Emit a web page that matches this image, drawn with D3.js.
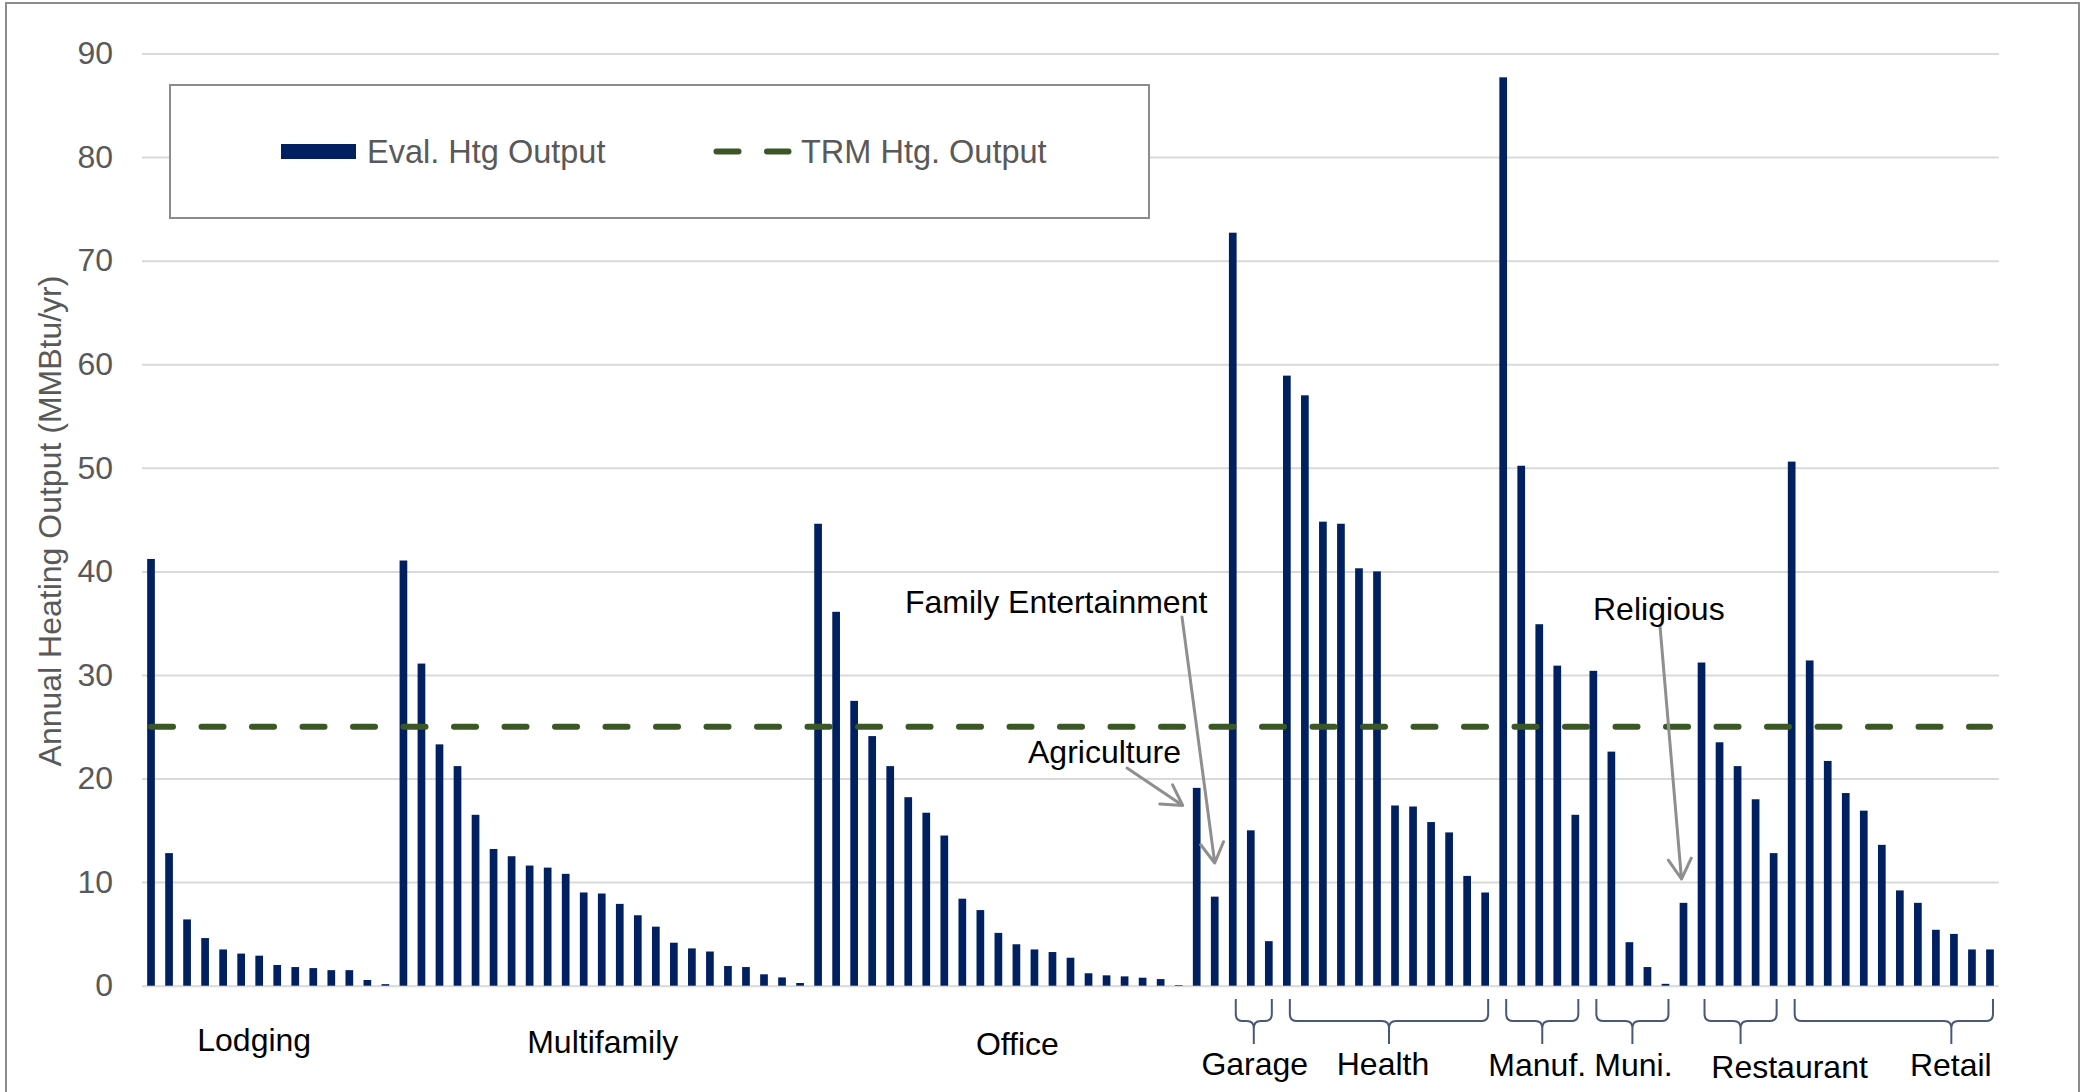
<!DOCTYPE html>
<meta charset="utf-8">
<style>

    body {
        margin: 0;
        background: #fff;
    }

    text {
        font-family: "Liberation Sans", Arial, sans-serif;
    }

    .bar {
        fill: #002060;
    }

    .y.axis text {
        fill: #595959;
        font-size: 32px;
        font-family: "Liberation Sans", Arial, sans-serif;
    }

    .y.axis line {
        stroke: #d9d9d9;
        stroke-width: 2;
    }

    .cat-label, .note {
        font-size: 32px;
        fill: #000;
    }

    .brace {
        fill: none;
        stroke: #4a5878;
        stroke-width: 2;
    }

    .arrow {
        fill: none;
        stroke: #8f8f8f;
        stroke-width: 3;
    }

</style>
<svg class="chart"></svg>
<script src="https://d3js.org/d3.v7.min.js" charset="utf-8"></script>
<script>

    // building types, in the order the bars appear
    var groups = ["Lodging", "Multifamily", "Office", "Agriculture", "Family Entertainment",
        "Garage", "Health", "Manuf.", "Muni.", "Religious", "Restaurant", "Retail"];

    // evaluated heating output per site (MMBtu/yr)
    var lodging = [41.2, 12.8, 6.4, 4.6, 3.5, 3.1, 2.9, 2.0, 1.8, 1.7, 1.5, 1.5, 0.55, 0.15];
    var multifamily = [41.05, 31.1, 23.3, 21.2, 16.5, 13.2, 12.5, 11.6, 11.4, 10.8, 9.0, 8.9,
        7.9, 6.8, 5.7, 4.15, 3.6, 3.3, 1.9, 1.8, 1.1, 0.8, 0.26];
    var office = [44.6, 36.1, 27.5, 24.1, 21.2, 18.2, 16.7, 14.5, 8.4, 7.3, 5.1, 4.0, 3.5, 3.25,
        2.7, 1.2, 1.0, 0.9, 0.77, 0.64, 0.06];
    var agriculture = [19.1];
    var familyEnt = [8.6];
    var garage = [72.7, 15.0, 4.3];
    var health = [58.9, 57.0, 44.8, 44.6, 40.3, 40.0, 17.4, 17.3, 15.8, 14.8, 10.6, 9.0];
    var manuf = [87.7, 50.2, 34.9, 30.9, 16.5];
    var muni = [30.4, 22.6, 4.2, 1.8, 0.18];
    var religious = [8.0];
    var restaurant = [31.2, 23.5, 21.2, 18.0, 12.8];
    var retail = [50.6, 31.4, 21.7, 18.6, 16.9, 13.6, 9.2, 8.0, 5.4, 5.0, 3.5, 3.5];

    var groupValues = [lodging, multifamily, office, agriculture, familyEnt, garage,
        health, manuf, muni, religious, restaurant, retail];

    var trmOutput = 25;
    var yTicks = [0, 10, 20, 30, 40, 50, 60, 70, 80, 90];

    var seriesNames = ["Eval. Htg Output", "TRM Htg. Output"];
    var yTitle = "Annual Heating Output (MMBtu/yr)";

    // layout only (where the group labels / braces sit)
    var labelLayout = {
        "Lodging": {dx: -14, y: 1051},
        "Multifamily": {dx: 1, y: 1053},
        "Office": {dx: 19, y: 1055},
        "Garage": {dx: 4, y: 1075, brace: 0.5},
        "Health": {dx: -3, y: 1075, brace: 0.5},
        "Manuf.": {dx: -2, y: 1076, brace: 0.5},
        "Muni.": {dx: 4, y: 1076, brace: 0.5},
        "Restaurant": {dx: 52, y: 1078, brace: 0.5},
        "Retail": {dx: 60, y: 1076, brace: 0.79}
    };

    // callouts for the single-site groups
    var notes = [
        {group: "Family Entertainment", tipDx: 0, tipValue: 11.85, tail: [1182, 617], text: [905, 613]},
        {group: "Agriculture", tipDx: -14, tipValue: 17.4, tail: [1127, 768], text: [1028, 763]},
        {group: "Religious", tipDx: -2, tipValue: 10.3, tail: [1660, 626], text: [1593, 620]}
    ];

    var W = 2082, H = 1092,
        plot = {left: 142, right: 1999, top: 53.5, bottom: 985.7};

    var bars = [];
    groupValues.forEach(function (vals, g) {
        vals.forEach(function (v) {
            bars.push({index: bars.length, group: groups[g], value: v});
        });
    });

    var x = d3.scaleBand()
        .domain(bars.map(function (d) { return d.index; }))
        .range([plot.left, plot.right])
        .paddingInner(0.573)
        .paddingOuter(0.2865);

    var y = d3.scaleLinear()
        .domain([0, 90])
        .range([plot.bottom, plot.top]);

    var bw = x.bandwidth();
    function cx(i) { return x(i) + bw / 2; }

    var svg = d3.select(".chart")
        .attr("width", W)
        .attr("height", H);

    svg.append("rect")
        .attr("x", 6).attr("y", 3)
        .attr("width", W - 9).attr("height", H + 20)
        .attr("fill", "#fff")
        .attr("stroke", "#8c8c8c")
        .attr("stroke-width", 2);

    // gridlines + tick labels
    var yAxis = d3.axisLeft(y)
        .tickValues(yTicks)
        .tickSize(-(plot.right - plot.left))
        .tickPadding(29);

    svg.append("g")
        .attr("class", "y axis")
        .attr("transform", "translate(" + plot.left + ",0)")
        .call(yAxis)
        .attr("font-size", 32)
        .attr("font-family", "Liberation Sans, Arial, sans-serif")
        .call(function (g) { g.select(".domain").remove(); });

    svg.append("text")
        .attr("transform", "translate(61,521) rotate(-90)")
        .attr("text-anchor", "middle")
        .attr("font-size", 32)
        .attr("fill", "#595959")
        .text(yTitle);

    svg.append("g")
        .selectAll("rect")
        .data(bars)
        .enter().append("rect")
        .attr("class", "bar")
        .attr("x", function (d) { return x(d.index); })
        .attr("y", function (d) { return y(d.value); })
        .attr("width", bw)
        .attr("height", function (d) { return y(0) - y(d.value); });

    // TRM reference line, first category centre to last
    svg.append("line")
        .attr("x1", cx(0))
        .attr("x2", cx(bars.length - 1))
        .attr("y1", y(trmOutput))
        .attr("y2", y(trmOutput))
        .attr("stroke", "#3b5725")
        .attr("stroke-width", 6)
        .attr("stroke-linecap", "round")
        .attr("stroke-dasharray", "22,28.5");

    // legend
    var legend = svg.append("g");
    legend.append("rect")
        .attr("x", 170).attr("y", 85)
        .attr("width", 979).attr("height", 133)
        .attr("fill", "#fff")
        .attr("stroke", "#8c8c8c")
        .attr("stroke-width", 2);
    legend.append("rect")
        .attr("class", "bar")
        .attr("x", 281).attr("y", 144)
        .attr("width", 75).attr("height", 15);
    legend.append("line")
        .attr("x1", 716.5).attr("x2", 788.5)
        .attr("y1", 151.5).attr("y2", 151.5)
        .attr("stroke", "#3b5725")
        .attr("stroke-width", 6)
        .attr("stroke-linecap", "round")
        .attr("stroke-dasharray", "22,28.5");
    legend.selectAll("text")
        .data(seriesNames)
        .enter().append("text")
        .attr("x", function (d, i) { return i ? 801 : 367; })
        .attr("y", 163)
        .attr("font-size", 32.5)
        .attr("fill", "#595959")
        .text(function (d) { return d; });

    // group labels + braces
    var groupInfo = groups.map(function (name) {
        var members = bars.filter(function (b) { return b.group === name; });
        return {
            name: name,
            first: members[0].index,
            last: members[members.length - 1].index
        };
    });

    var labelled = groupInfo.filter(function (g) { return labelLayout[g.name]; });

    svg.append("g")
        .selectAll("text")
        .data(labelled)
        .enter().append("text")
        .attr("class", "cat-label")
        .attr("text-anchor", "middle")
        .attr("x", function (g) {
            return (x(g.first) + x(g.last) + x.step()) / 2 - x.step() * x.paddingInner() / 2 + labelLayout[g.name].dx;
        })
        .attr("y", function (g) { return labelLayout[g.name].y; })
        .text(function (g) { return g.name; });

    function bracePath(x0, x1, f) {
        var yTop = 999, yMid = 1021, yTip = 1044, r = 7,
            xm = x0 + (x1 - x0) * f;
        return "M" + x0 + "," + yTop +
            "L" + x0 + "," + (yMid - r) +
            "Q" + x0 + "," + yMid + " " + (x0 + r) + "," + yMid +
            "L" + (xm - r) + "," + yMid +
            "Q" + xm + "," + yMid + " " + xm + "," + (yMid + r) +
            "L" + xm + "," + yTip +
            "M" + xm + "," + (yMid + r) +
            "Q" + xm + "," + yMid + " " + (xm + r) + "," + yMid +
            "L" + (x1 - r) + "," + yMid +
            "Q" + x1 + "," + yMid + " " + x1 + "," + (yMid - r) +
            "L" + x1 + "," + yTop;
    }

    svg.append("g")
        .selectAll("path")
        .data(labelled.filter(function (g) { return labelLayout[g.name].brace; }))
        .enter().append("path")
        .attr("class", "brace")
        .attr("d", function (g) {
            return bracePath(cx(g.first) + 3, cx(g.last) + 3, labelLayout[g.name].brace);
        });

    // callout arrows
    var noteG = svg.append("g");
    notes.forEach(function (n) {
        var g = groupInfo.find(function (d) { return d.name === n.group; });
        var tip = [cx(g.first) + n.tipDx, y(n.tipValue)];
        var ang = Math.atan2(tip[1] - n.tail[1], tip[0] - n.tail[0]);
        var len = 23, spread = Math.PI / 6;
        var a1 = [tip[0] - len * Math.cos(ang - spread), tip[1] - len * Math.sin(ang - spread)];
        var a2 = [tip[0] - len * Math.cos(ang + spread), tip[1] - len * Math.sin(ang + spread)];

        noteG.append("path")
            .attr("class", "arrow")
            .attr("d", "M" + n.tail + "L" + tip + "M" + a1 + "L" + tip + "L" + a2)
            .attr("stroke-linejoin", "round")
            .attr("stroke-linecap", "round");

        noteG.append("text")
            .attr("class", "note")
            .attr("x", n.text[0])
            .attr("y", n.text[1])
            .attr("font-size", 32)
            .text(n.group);
    });

</script>
